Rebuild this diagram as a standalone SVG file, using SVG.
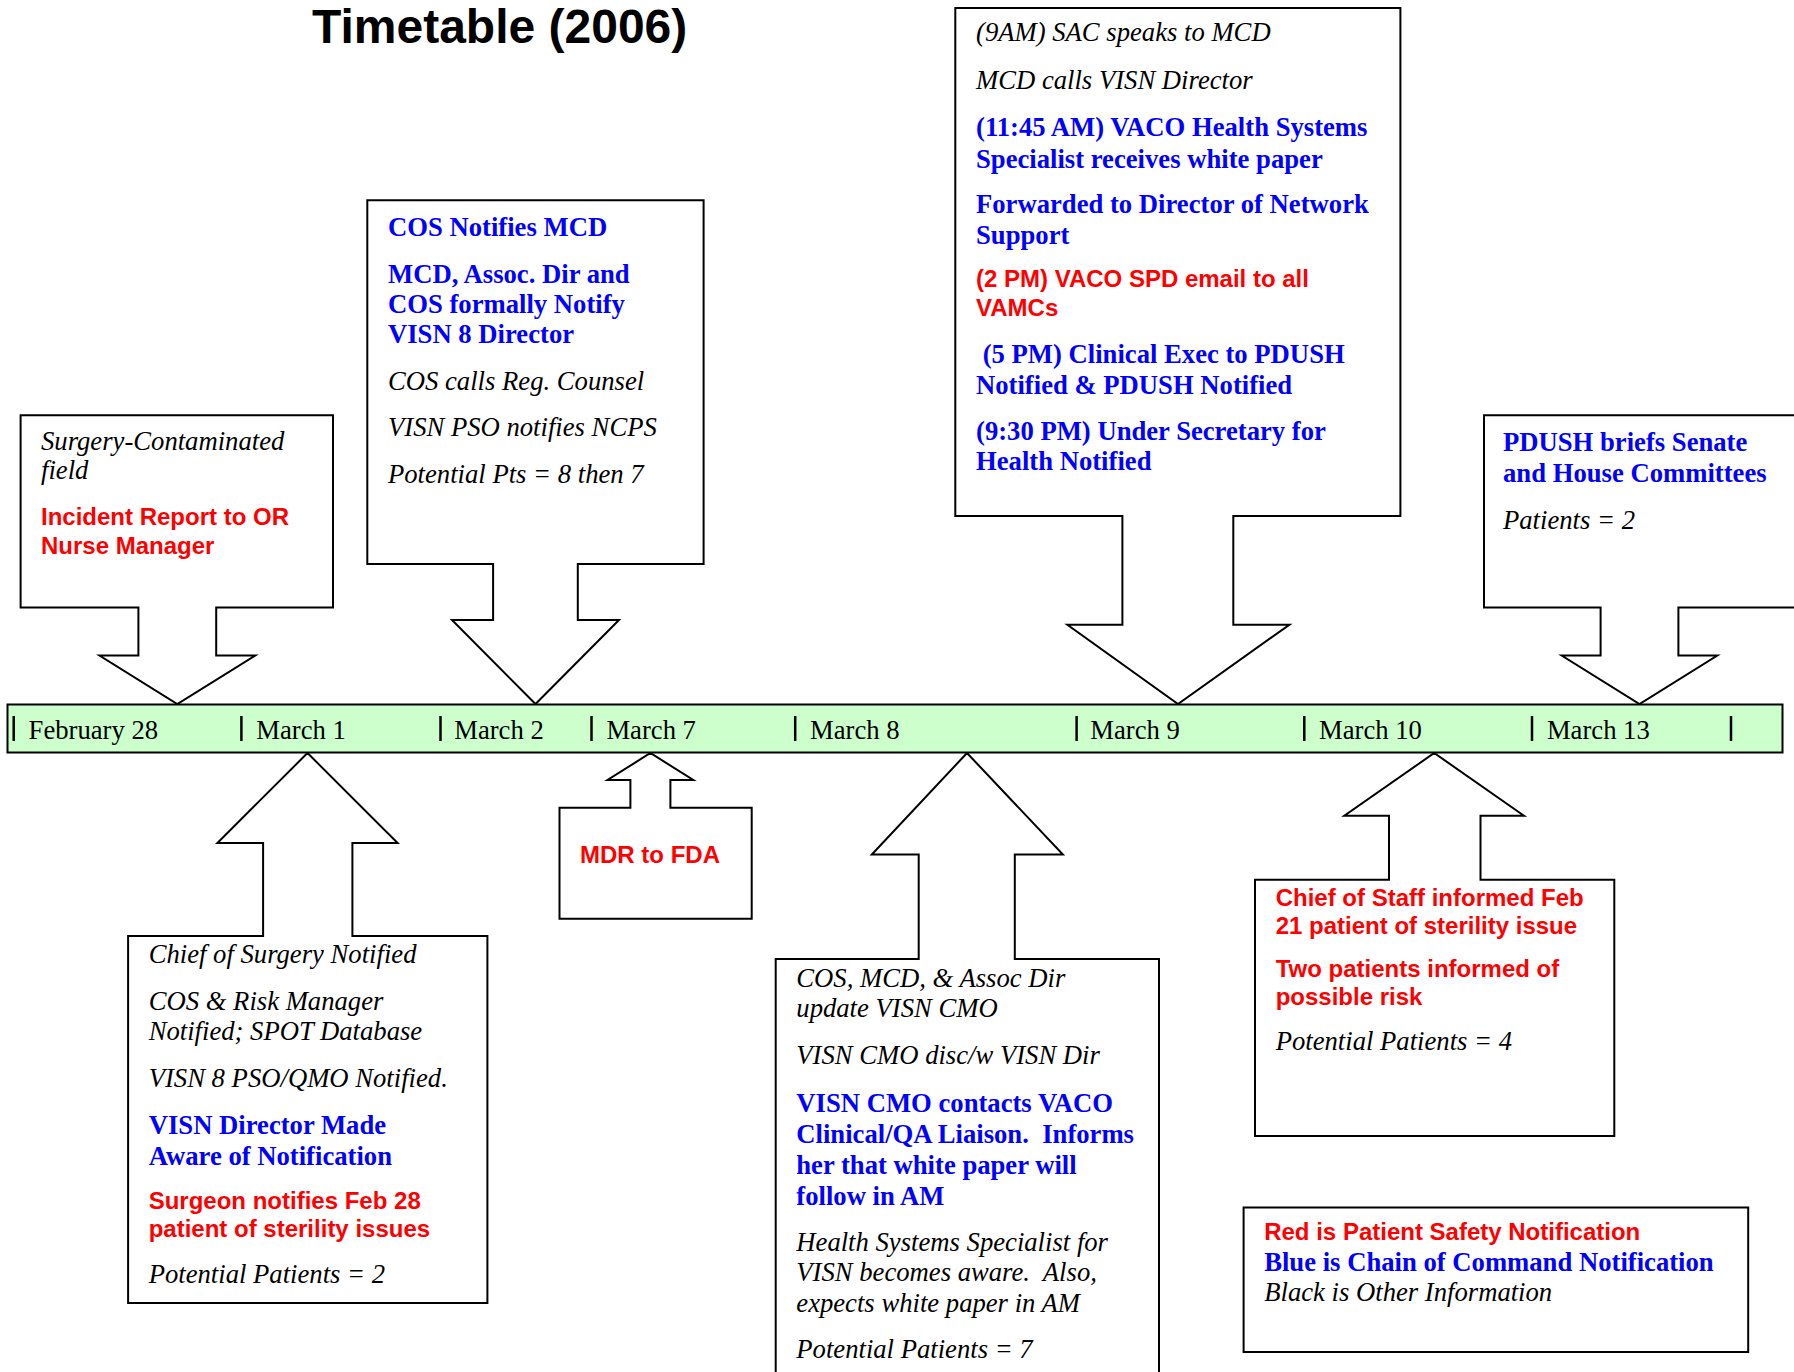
<svg xmlns="http://www.w3.org/2000/svg" width="1794" height="1372" viewBox="0 0 1794 1372">
<style>
.box{fill:#fff;stroke:#000;stroke-width:2;stroke-linejoin:miter}
.it{font-family:"Liberation Serif","Times New Roman",serif;font-style:italic;font-size:26.67px;fill:#000;white-space:pre}
.bl{font-family:"Liberation Serif","Times New Roman",serif;font-weight:bold;font-size:26.67px;fill:#0000ff;white-space:pre}
.rd{font-family:"Liberation Sans",Arial,sans-serif;font-weight:bold;font-size:24px;fill:#ff0000;white-space:pre}
.tl{font-family:"Liberation Serif","Times New Roman",serif;font-size:26.67px;fill:#000}
.tick{stroke:#000;stroke-width:2.5}
.title{font-family:"Liberation Sans",Arial,sans-serif;font-weight:bold;font-size:48px;fill:#000}
</style>
<rect width="1794" height="1372" fill="#fff"/>
<text class="title" x="312" y="43">Timetable (2006)</text>

<g id="connectors"></g>

<g id="node-feb28">
<path class="box" d="M20.6,415.3 H333 V607.5 H216.2 V655.6 H255.2 L177.3,704 L99.5,655.6 H138.4 V607.5 H20.6 Z"/>
<text class="it" x="41" y="449.6">Surgery-Contaminated</text>
<text class="it" x="41" y="479">field</text>
<text class="rd" x="41" y="525">Incident Report to OR</text>
<text class="rd" x="41" y="554">Nurse Manager</text>
</g>

<g id="node-mar2">
<path class="box" d="M367.3,200.2 H703.6 V564 H577.8 V620 H619 L535.5,704 L452,620 H493.1 V564 H367.3 Z"/>
<text class="bl" x="388" y="235.7">COS Notifies MCD</text>
<text class="bl" x="388" y="282.6">MCD, Assoc. Dir and</text>
<text class="bl" x="388" y="313">COS formally Notify</text>
<text class="bl" x="388" y="343">VISN 8 Director</text>
<text class="it" x="388" y="390">COS calls Reg. Counsel</text>
<text class="it" x="388" y="436">VISN PSO notifies NCPS</text>
<text class="it" x="388" y="483">Potential Pts = 8 then 7</text>
</g>

<g id="node-mar9">
<path class="box" d="M955.3,8 H1400.4 V516 H1233.3 V624.7 H1289.4 L1178,704 L1067.4,624.7 H1122.4 V516 H955.3 Z"/>
<text class="it" x="976" y="41">(9AM) SAC speaks to MCD</text>
<text class="it" x="976" y="88.5">MCD calls VISN Director</text>
<text class="bl" x="976" y="136">(11:45 AM) VACO Health Systems</text>
<text class="bl" x="976" y="167.5">Specialist receives white paper</text>
<text class="bl" x="976" y="212.8">Forwarded to Director of Network</text>
<text class="bl" x="976" y="243.8">Support</text>
<text class="rd" x="976" y="287">(2 PM) VACO SPD email to all</text>
<text class="rd" x="976" y="315.5">VAMCs</text>
<text class="bl" x="976" y="362.7"> (5 PM) Clinical Exec to PDUSH</text>
<text class="bl" x="976" y="393.5">Notified &amp; PDUSH Notified</text>
<text class="bl" x="976" y="439.5">(9:30 PM) Under Secretary for</text>
<text class="bl" x="976" y="470">Health Notified</text>
</g>

<g id="node-mar13">
<path class="box" d="M1484,415.3 H1800 V607.5 H1678.4 V655.6 H1717.3 L1639.5,704 L1561.7,655.6 H1600.6 V607.5 H1484 Z"/>
<text class="bl" x="1503" y="450.8">PDUSH briefs Senate</text>
<text class="bl" x="1503" y="481.7">and House Committees</text>
<text class="it" x="1503" y="528.6">Patients = 2</text>
</g>

<g id="node-mar1">
<path class="box" d="M128.1,936 H263.1 V843 H217.4 L307.5,753 L397.6,843 H352.4 V936 H487.4 V1303 H128.1 Z"/>
<text class="it" x="148.7" y="963.3">Chief of Surgery Notified</text>
<text class="it" x="148.7" y="1010">COS &amp; Risk Manager</text>
<text class="it" x="148.7" y="1040">Notified; SPOT Database</text>
<text class="it" x="148.7" y="1087">VISN 8 PSO/QMO Notified.</text>
<text class="bl" x="148.7" y="1134">VISN Director Made</text>
<text class="bl" x="148.7" y="1164.7">Aware of Notification</text>
<text class="rd" x="148.7" y="1209">Surgeon notifies Feb 28</text>
<text class="rd" x="148.7" y="1236.8">patient of sterility issues</text>
<text class="it" x="148.7" y="1282.6">Potential Patients = 2</text>
</g>

<g id="node-mar7">
<path class="box" d="M559.5,807.7 H630.4 V780 H607.5 L650.4,753 L693.3,780 H670.4 V807.7 H751.7 V918.7 H559.5 Z"/>
<text class="rd" x="580" y="862.6">MDR to FDA</text>
</g>

<g id="node-mar8">
<path class="box" d="M775.7,959 H918.7 V854.6 H871.8 L967,753 L1062.9,854.6 H1014.8 V959 H1159 V1380 H775.7 Z"/>
<text class="it" x="796.3" y="987.4">COS, MCD, &amp; Assoc Dir</text>
<text class="it" x="796.3" y="1017">update VISN CMO</text>
<text class="it" x="796.3" y="1064">VISN CMO disc/w VISN Dir</text>
<text class="bl" x="796.3" y="1112">VISN CMO contacts VACO</text>
<text class="bl" x="796.3" y="1143">Clinical/QA Liaison.  Informs</text>
<text class="bl" x="796.3" y="1174">her that white paper will</text>
<text class="bl" x="796.3" y="1204.7">follow in AM</text>
<text class="it" x="796.3" y="1250.5">Health Systems Specialist for</text>
<text class="it" x="796.3" y="1281.4">VISN becomes aware.  Also,</text>
<text class="it" x="796.3" y="1312.3">expects white paper in AM</text>
<text class="it" x="796.3" y="1358">Potential Patients = 7</text>
</g>

<g id="node-mar10">
<path class="box" d="M1255,879.8 H1389 V815.7 H1344.3 L1434.2,753 L1524,815.7 H1480.5 V879.8 H1614.3 V1136 H1255 Z"/>
<text class="rd" x="1275.7" y="906">Chief of Staff informed Feb</text>
<text class="rd" x="1275.7" y="933.6">21 patient of sterility issue</text>
<text class="rd" x="1275.7" y="977">Two patients informed of</text>
<text class="rd" x="1275.7" y="1004.5">possible risk</text>
<text class="it" x="1275.7" y="1050.3">Potential Patients = 4</text>
</g>

<g id="timeline">
<rect x="7.5" y="704.5" width="1775" height="48" fill="#ccffcc" stroke="#000" stroke-width="2"/>
<line class="tick" x1="13.7" y1="716" x2="13.7" y2="741"/>
<line class="tick" x1="241.4" y1="716" x2="241.4" y2="741"/>
<line class="tick" x1="440.5" y1="716" x2="440.5" y2="741"/>
<line class="tick" x1="591.5" y1="716" x2="591.5" y2="741"/>
<line class="tick" x1="795.2" y1="716" x2="795.2" y2="741"/>
<line class="tick" x1="1076.6" y1="716" x2="1076.6" y2="741"/>
<line class="tick" x1="1304.3" y1="716" x2="1304.3" y2="741"/>
<line class="tick" x1="1532" y1="716" x2="1532" y2="741"/>
<line class="tick" x1="1731" y1="716" x2="1731" y2="741"/>
<text class="tl" x="28.6" y="739">February 28</text>
<text class="tl" x="256.3" y="739">March 1</text>
<text class="tl" x="454.2" y="739">March 2</text>
<text class="tl" x="606.4" y="739">March 7</text>
<text class="tl" x="810" y="739">March 8</text>
<text class="tl" x="1090.3" y="739">March 9</text>
<text class="tl" x="1319" y="739">March 10</text>
<text class="tl" x="1546.9" y="739">March 13</text>
</g>

<g id="legend">
<rect class="box" x="1243.6" y="1207.5" width="504.6" height="144.5"/>
<text class="rd" x="1264.2" y="1240">Red is Patient Safety Notification</text>
<text class="bl" x="1264.2" y="1271">Blue is Chain of Command Notification</text>
<text class="it" x="1264.2" y="1300.8">Black is Other Information</text>
</g>
</svg>
